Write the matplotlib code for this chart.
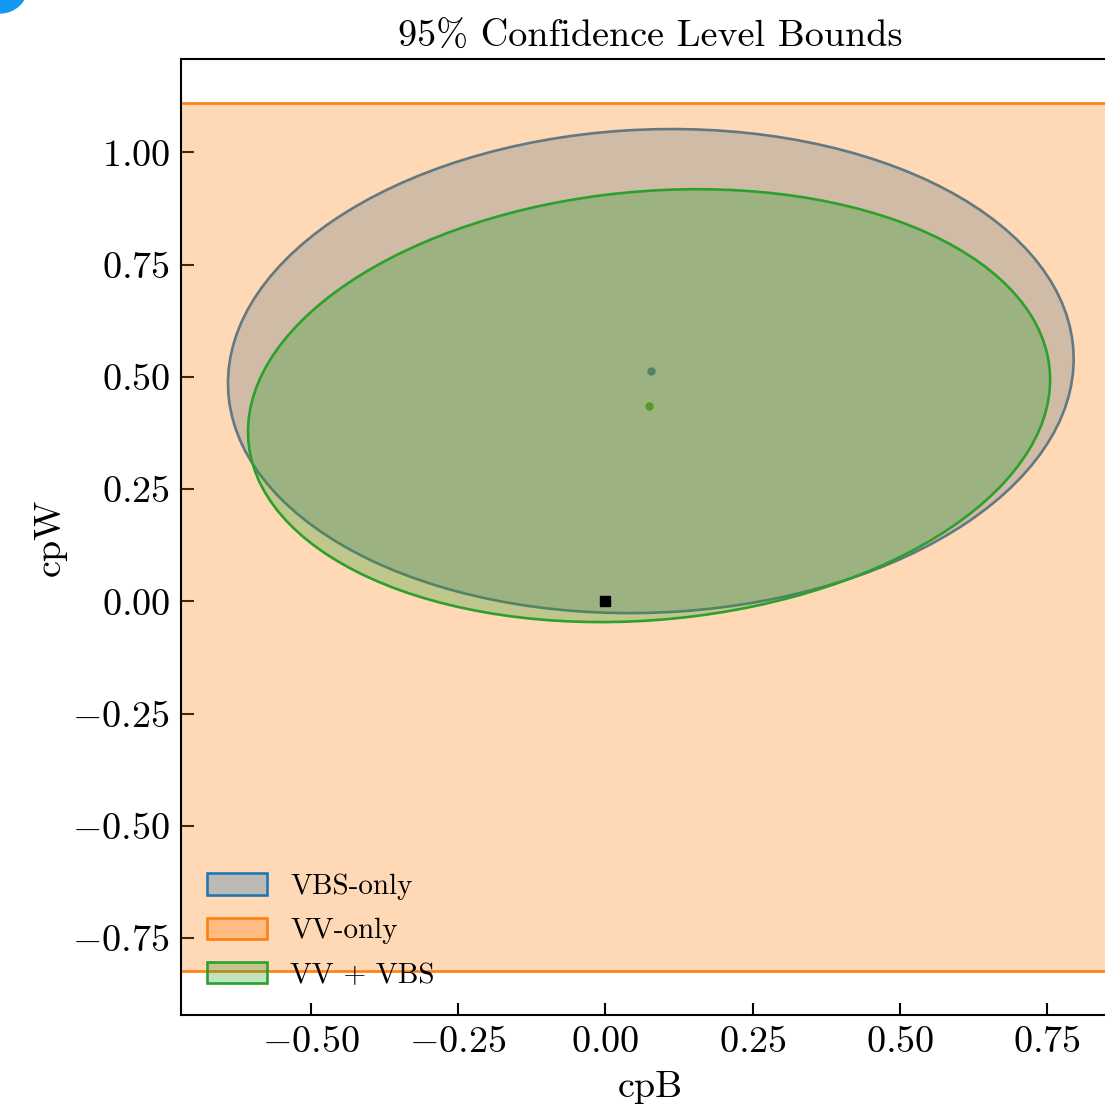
import numpy as np
import matplotlib
import matplotlib.pyplot as plt
from matplotlib.patches import Ellipse, Circle, Patch
from matplotlib.colors import to_rgba

plt.rcParams['font.family'] = 'serif'
plt.rcParams['font.serif'] = ['cmr10']
plt.rcParams['mathtext.fontset'] = 'cm'
plt.rcParams['axes.formatter.use_mathtext'] = True

# 95% CL ellipses: centre (cpB, cpW), half extent along cpB / cpW, correlation
vbs_center = [0.077, 0.513]
vbs_half = [0.718, 0.539]
vbs_corr = 0.05

comb_center = [0.074, 0.436]
comb_half = [0.681, 0.482]
comb_corr = 0.12

# VV-only only constrains cpW
vv_bounds = [-0.824, 1.111]

sm_point = [0.0, 0.0]

xticks = [-0.50, -0.25, 0.00, 0.25, 0.50, 0.75]
yticks = [-0.75, -0.50, -0.25, 0.00, 0.25, 0.50, 0.75, 1.00]
xlim = (-0.7208, 0.872)
ylim = (-0.921, 1.208)


def make_ellipse(center, half, rho, **kw):
    cov = np.array([[half[0]**2, rho*half[0]*half[1]],
                    [rho*half[0]*half[1], half[1]**2]])
    vals, vecs = np.linalg.eigh(cov)
    angle = np.degrees(np.arctan2(vecs[1, 1], vecs[0, 1]))
    return Ellipse(center, 2*np.sqrt(vals[1]), 2*np.sqrt(vals[0]), angle=angle, **kw)


fig = plt.figure(figsize=(11.05, 11.06), dpi=100)
ax = fig.add_axes([181/1105, 91/1106, 938/1105, 956/1106])

vbs = make_ellipse(vbs_center, vbs_half, vbs_corr,
                   facecolor=to_rgba('C0', 0.3), edgecolor='C0',
                   lw=1.9, zorder=1, label='VBS-only')
ax.add_patch(vbs)
ax.plot(vbs_center[0], vbs_center[1], 'o', color='C0', ms=5, zorder=1.5)
ax.plot(comb_center[0], comb_center[1], 'o', color='C2', ms=5, zorder=1.5)

ax.axhspan(vv_bounds[0], vv_bounds[1], facecolor=to_rgba('C1', 0.3),
           edgecolor='none', zorder=2)
for b in vv_bounds:
    ax.axhline(b, color='C1', lw=1.9, zorder=2)
vv_handle = Patch(facecolor=to_rgba('C1', 0.3), edgecolor='C1', lw=1.9,
                  label='VV-only')

comb = make_ellipse(comb_center, comb_half, comb_corr,
                    facecolor=to_rgba('C2', 0.3), edgecolor='C2',
                    lw=1.9, zorder=3, label='VV + VBS')
ax.add_patch(comb)

ax.plot(sm_point[0], sm_point[1], 's', color='black', ms=7, zorder=5)

ax.set_xlim(xlim)
ax.set_ylim(ylim)
ax.set_xticks(xticks)
ax.set_yticks(yticks)
ax.tick_params(direction='in', length=9, width=1.5, labelsize=27.5, pad=8,
               top=False, right=False)
for sp in ax.spines.values():
    sp.set_linewidth(1.5)

ax.set_title('95% Confidence Level Bounds', fontsize=27.5, pad=9)
ax.set_xlabel('cpB', fontsize=27.5, labelpad=8.5)
ax.set_ylabel('cpW', fontsize=27.5)
ax.legend(handles=[vbs, vv_handle, comb], loc='lower left', frameon=False,
          fontsize=21, handlelength=2.05, handleheight=0.75, labelspacing=0.6)

fig.patches.append(Circle((0, 11.21), 0.28, transform=fig.dpi_scale_trans,
                          color='#1499f2', zorder=10))

fig.savefig('out.png', dpi=100)
